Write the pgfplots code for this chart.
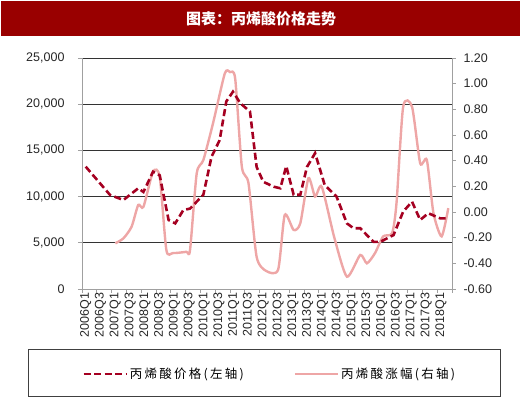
\documentclass[border=0pt]{standalone}
\usepackage{pgfplots}
\pgfplotsset{compat=1.18}
\usepackage{fontspec}
\setmainfont{Liberation Sans}
\newfontfamily\cjk{Noto Sans CJK SC}
\newfontfamily\cjkl[LetterSpace=18]{Noto Sans CJK SC}
\definecolor{titlered}{RGB}{153,0,0}
\definecolor{pricered}{RGB}{165,0,33}
\definecolor{pinkl}{RGB}{238,166,166}
\definecolor{axgray}{RGB}{160,160,160}
\pgfplotstableread{
x y
0 13240
3.3 10170
5.1 9630
7.1 10900
7.8 10500
9.1 12700
10 12300
11.2 7470
12.1 7100
13.2 8550
14.1 8700
15.9 10200
17 14300
18.1 16100
19 20300
19.9 21350
20.9 20100
22.2 19200
23.1 13200
24 11600
25.4 11070
26.3 10900
27.1 13300
28.1 10200
29 10200
29.9 13200
31 14700
32.3 11250
33.9 10000
35.3 7100
36.2 6570
37.1 6570
38.9 5100
39.8 5100
41.6 5840
42.9 8370
44.1 9450
45.2 7470
46.3 8200
47.9 7650
49 7650
}\pricetable
\pgfplotstableread{
x y
4 -0.244
5.1 -0.205
6.2 -0.115
7.1 0.055
7.8 0.04
9.1 0.314
10 0.275
10.9 -0.296
11.8 -0.32
13.6 -0.31
14.1 -0.296
15 0.30
15.9 0.405
17.2 0.69
18.8 1.08
19.5 1.09
20.2 1.04
21.1 0.353
22 0.224
23.1 -0.35
24.4 -0.46
26 -0.45
26.9 -0.023
28.1 -0.14
29 -0.088
30.1 0.263
31 0.12
31.9 0.197
33.6 -0.2
35.3 -0.504
37.1 -0.335
38 -0.40
39.1 -0.32
40.2 -0.19
41.4 -0.166
42 0.068
42.9 0.82
44.1 0.82
45.2 0.38
46.1 0.405
47 -0.01
48.1 -0.19
49 0.03
}\changetable
\pgfplotsset{
  common/.style={
    at={(82pt,109pt)}, anchor=south west, scale only axis,
    width=370pt, height=231pt, xmin=-0.5, xmax=49.5,
    scaled y ticks=false, scaled x ticks=false,
    tick align=outside, major tick length=4pt,
    axis line style={axgray, line width=0.8pt},
    every tick/.style={axgray, line width=0.8pt},
    /pgf/number format/assume math mode=true,
    ticklabel style={font=\fontsize{12.5}{14}\selectfont, text=black!85},
  }
}
\begin{document}
\begin{tikzpicture}
\path[use as bounding box] (0pt,0pt) rectangle (520pt,398pt);
\fill[titlered] (1pt,362pt) rectangle (519.5pt,397pt);
\node[text=white, font=\cjk\bfseries\fontsize{15}{16}\selectfont] at (261pt,379.5pt) {图表：丙烯酸价格走势};
\draw[black!75, line width=1pt] (28pt,1.5pt) rectangle (500pt,48pt);
% left axis with grid
\begin{axis}[common,
  ymin=0, ymax=25000,
  axis x line*=bottom, axis y line*=left,
  ytick={0,5000,10000,15000,20000,25000},
  yticklabels={0,{5,000},{10,000},{15,000},{20,000},{25,000}},
  yticklabel style={xshift=-10pt},
  ymajorgrids, grid style={black!80, line width=0.6pt},
  xtick={-0.5,1.5,...,49.5}, xticklabels={},
  extra x ticks={0,2,...,48},
  extra x tick labels={2006Q1,2006Q3,2007Q1,2007Q3,2008Q1,2008Q3,2009Q1,2009Q3,2010Q1,2010Q3,2011Q1,2011Q3,2012Q1,2012Q3,2013Q1,2013Q3,2014Q1,2014Q3,2015Q1,2015Q3,2016Q1,2016Q3,2017Q1,2017Q3,2018Q1},
  extra x tick style={major tick length=0pt, xticklabel style={rotate=90, anchor=east, font=\fontsize{12.5}{14}\selectfont}},
]
\end{axis}
% right axis with change
\begin{axis}[common,
  ymin=-0.6, ymax=1.2,
  axis x line=none, axis y line*=right,
  ytick={-0.6,-0.4,-0.2,0,0.2,0.4,0.6,0.8,1.0,1.2},
  yticklabels={-0.60,-0.40,-0.20,0.00,0.20,0.40,0.60,0.80,1.00,1.20},
  yticklabel style={xshift=4pt},
]
\addplot[pinkl, line width=2.4pt, smooth, tension=0.4] table[x=x,y=y] {\changetable};
\end{axis}
% price on top + legend
\begin{axis}[common,
  ymin=0, ymax=25000, hide axis,
  legend style={at={(0,-0.368)}, anchor=west, draw=none, fill=none, inner sep=0pt,
    font=\cjkl\fontsize{12.5}{14}\selectfont, legend columns=2,
    /tikz/every even column/.append style={column sep=48pt}},
  legend image code/.code={\draw[#1] (0pt,0pt) -- (43pt,0pt);},
  legend cell align=left,
]
\addplot[pricered, line width=2.6pt, dash pattern=on 7pt off 3.5pt] table[x=x,y=y] {\pricetable};
\addlegendentry{丙烯酸价格(左轴)}
\addlegendimage{pinkl, line width=2.4pt}
\addlegendentry{丙烯酸涨幅(右轴)}
\end{axis}
\end{tikzpicture}
\end{document}
